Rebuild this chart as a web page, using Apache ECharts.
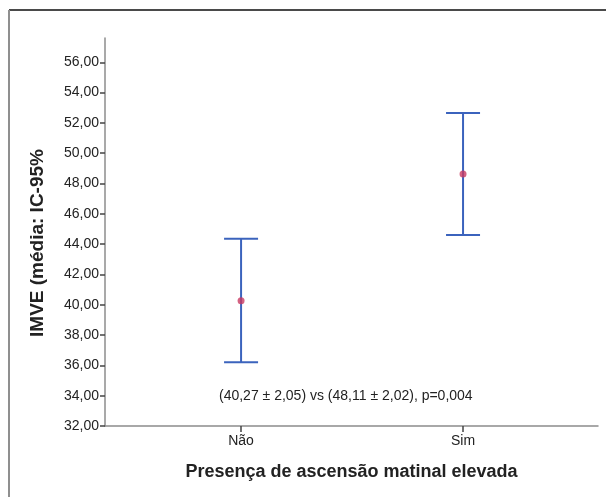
<!DOCTYPE html>
<html>
<head>
    <meta charset="utf-8">
    <script src="https://cdn.jsdelivr.net/npm/echarts@6/dist/echarts.min.js"></script>
    <style>
        body { margin: 0; background: #fff; }
        #chart { width: 606px; height: 497px; }
    </style>
</head>
<body>
<div id="chart"></div>
<script>
    // groups on the x axis (placed at 1 and 2)
    const categories = ['Não', 'Sim']
    const groupPos = [1, 2]
    // mean and 95% CI
    const means = [40.27, 48.63]
    const ciLow = [36.2, 44.6]
    const ciHigh = [44.35, 52.65]
    const yTicks = [32, 34, 36, 38, 40, 42, 44, 46, 48, 50, 52, 54, 56]
    const note = '(40,27 ± 2,05) vs (48,11 ± 2,02), p=0,004'

    const font = '"Liberation Sans", Arial, sans-serif'
    const chart = echarts.init(document.getElementById('chart'))

    const barData = groupPos.map(function (x, i) { return [x, ciLow[i], ciHigh[i]] })
    const meanData = groupPos.map(function (x, i) { return [x, means[i]] })

    function renderBar(params, api) {
        const lo = api.coord([api.value(0), api.value(1)])
        const hi = api.coord([api.value(0), api.value(2)])
        const half = 17
        const style = { stroke: '#3b63bd', lineWidth: 2 }
        return {
            type: 'group',
            children: [
                { type: 'line', shape: { x1: lo[0], y1: lo[1], x2: hi[0], y2: hi[1] }, style: style },
                { type: 'line', shape: { x1: hi[0] - half, y1: hi[1], x2: hi[0] + half, y2: hi[1] }, style: style },
                { type: 'line', shape: { x1: lo[0] - half, y1: lo[1], x2: lo[0] + half, y2: lo[1] }, style: style }
            ]
        }
    }

    const option = {
        animation: false,
        grid: { left: 105, right: 8, top: 38, bottom: 71 },
        xAxis: {
            type: 'value',
            min: 0.387,
            max: 2.608,
            splitLine: { show: false },
            axisLine: { lineStyle: { color: '#8c8c8c', width: 1.5 } },
            axisTick: { customValues: groupPos, length: 6, lineStyle: { color: '#444', width: 1.5 } },
            axisLabel: {
                customValues: groupPos,
                formatter: function (v) { return categories[groupPos.indexOf(v)] || '' },
                color: '#222', fontSize: 14, fontFamily: font, margin: 8
            },
            name: 'Presença de ascensão matinal elevada',
            nameLocation: 'middle',
            nameGap: 37,
            nameTextStyle: { color: '#222', fontSize: 18, fontWeight: 'bold', fontFamily: font }
        },
        yAxis: {
            type: 'value',
            min: 32,
            max: 57.6,
            splitLine: { show: false },
            axisLine: { show: true, lineStyle: { color: '#8c8c8c', width: 1.5 } },
            axisTick: { show: true, customValues: yTicks, length: 5, lineStyle: { color: '#444', width: 1.5 } },
            axisLabel: {
                customValues: yTicks,
                formatter: function (v) { return v.toFixed(2).replace('.', ',') },
                color: '#222', fontSize: 14, fontFamily: font, margin: 6
            }
        },
        graphic: [
            { type: 'line', shape: { x1: 9, y1: 10, x2: 606, y2: 10 }, style: { stroke: '#4a4a4a', lineWidth: 2 } },
            { type: 'line', shape: { x1: 9, y1: 10, x2: 9, y2: 497 }, style: { stroke: '#8f8f8f', lineWidth: 2 } },
            {
                type: 'text', x: 38, y: 243, rotation: Math.PI / 2,
                style: {
                    text: 'IMVE (média: IC-95%', fill: '#222',
                    font: 'bold 19px ' + font, align: 'center', verticalAlign: 'middle'
                }
            },
            {
                type: 'text', left: 219, top: 389,
                style: { text: note, fill: '#222', font: '14px ' + font }
            }
        ],
        series: [
            {
                type: 'custom',
                renderItem: renderBar,
                data: barData,
                encode: { x: 0, y: [1, 2] },
                z: 2
            },
            {
                type: 'scatter',
                data: meanData,
                symbolSize: 7,
                itemStyle: { color: '#c93a62' },
                z: 3
            }
        ]
    }
    chart.setOption(option)
</script>
</body>
</html>
